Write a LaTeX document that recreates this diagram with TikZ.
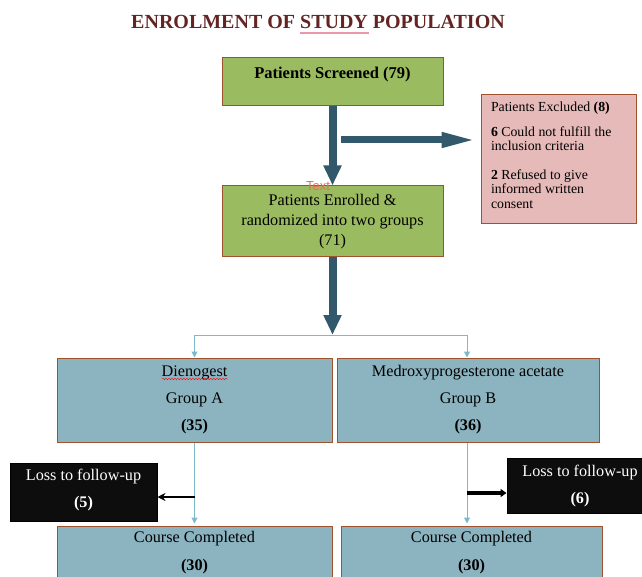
\documentclass[tikz,border=0pt]{standalone}
\usepackage{fontspec}
\setmainfont{Liberation Serif}
\newfontfamily\marksans{Liberation Sans}
\usetikzlibrary{arrows.meta,decorations.pathmorphing}
\definecolor{titlered}{RGB}{99,37,35}
\definecolor{boxedge}{RGB}{160,82,45}
\definecolor{screengreen}{RGB}{155,187,96}
\definecolor{exclpink}{RGB}{230,186,185}
\definecolor{groupblue}{RGB}{139,179,192}
\definecolor{flowteal}{RGB}{49,89,107}
\definecolor{thinblue}{RGB}{125,185,205}
\definecolor{markpink}{RGB}{235,150,170}
\definecolor{marksalmon}{RGB}{238,105,85}
\begin{document}
\begin{tikzpicture}[x=1pt, y=-1pt,
    box/.style={draw=boxedge, line width=1pt, inner sep=0pt, align=center, font=\fontsize{16.2}{27}\selectfont},
    greenbox/.style={box, fill=screengreen},
    bluebox/.style={box, fill=groupblue},
    lossbox/.style={box, draw=black, fill=black!95, text=white},
    bigarrow/.style={flowteal, line width=8pt, -{Triangle[width=17pt,length=20pt]}},
    thinarrow/.style={thinblue, line width=1pt, -{Triangle[width=6pt,length=6pt]}}]
  \useasboundingbox (0,0) rectangle (642,577);
  \node[font=\fontsize{20}{20}\selectfont\bfseries, text=titlered] (title) at (318,22) {ENROLMENT OF STUDY POPULATION};
  \draw[markpink, line width=2pt] (300,33.5) -- (369,33.5);
  % boxes
  \node[greenbox, minimum width=221, minimum height=48, text height=21, text depth=27, font=\fontsize{16.5}{20}\selectfont\bfseries] (screened) at (332.5,82) {Patients Screened (79)};
  \node[greenbox, minimum width=221, minimum height=71, text height=60, text depth=11, font=\fontsize{16.2}{20}\selectfont] (enrolled) at (332.5,221.5) {Patients Enrolled \&\\randomized into two groups\\(71)};
  \node[box, fill=exclpink, minimum width=155, minimum height=129, text height=17, text depth=112, inner xsep=10pt, text width=135, align=flush left, font=\fontsize{13.8}{14.5}\selectfont] (excl) at (558.5,159.5) {Patients Excluded \textbf{(8)}\\[10pt]\textbf{6} Could not fulfill the\\inclusion criteria\\[14pt]\textbf{2} Refused to give\\informed written\\consent};
  \node[bluebox, minimum width=275, minimum height=84, text height=72, text depth=12] (grpA) at (194.5,400) {Dienogest\\Group A\\\textbf{(35)}};
  \node[bluebox, minimum width=262, minimum height=84, text height=72, text depth=12] (grpB) at (468,400) {Medroxyprogesterone acetate\\Group B\\\textbf{(36)}};
  \node[bluebox, minimum width=275, minimum height=74, text height=44, text depth=30, font=\fontsize{16.2}{28}\selectfont] (courseA) at (194.5,563) {Course Completed\\\textbf{(30)}};
  \node[bluebox, minimum width=261, minimum height=74, text height=44, text depth=30, font=\fontsize{16.2}{28}\selectfont] (courseB) at (471.5,563) {Course Completed\\\textbf{(30)}};
  \node[lossbox, minimum width=147, minimum height=58, text height=44, text depth=14] (lossA) at (83.5,492) {Loss to follow-up\\\textbf{(5)}};
  \node[lossbox, minimum width=146, minimum height=55, text height=45, text depth=10] (lossB) at (580,485.5) {Loss to follow-up\\\textbf{(6)}};
  \node[font=\marksans\fontsize{13}{13}\selectfont, text=marksalmon, inner sep=0pt] (txtmark) at (318,186.5) {Text};
  \draw[red, decorate, decoration={snake, amplitude=0.8pt, segment length=3pt}] (162,379) -- (228,379);
  % arrows
  \draw[bigarrow] (screened.south) -- (enrolled.north);
  \coordinate (excljoin) at (341,140);
  \draw[flowteal, line width=7pt, -{Triangle[width=14pt,length=35pt]}, shorten >=4pt] (excljoin) -- (excljoin -| excl.west);
  \coordinate (split) at (332.5,335);
  \draw[bigarrow] (enrolled.south) -- (split);
  \coordinate (splitA) at (194.5,335);
  \coordinate (splitB) at (467,335);
  \draw[thinblue, line width=1pt] (splitA) -- (splitB);
  \draw[thinarrow] (splitA) -- (grpA.north);
  \draw[thinarrow] (splitB) -- (splitB |- grpB.north);
  \draw[thinarrow, shorten >=2pt] (grpA.south) -- (courseA.north);
  \draw[thinarrow, shorten >=2pt] (splitB |- grpB.south) -- (splitB |- courseB.north);
  \coordinate (lossAjoin) at (194.5,497);
  \draw[line width=2pt, -{Stealth[length=8pt,width=8pt]}] (lossAjoin) -- (lossAjoin -| lossA.east);
  \coordinate (lossBjoin) at (467,493);
  \draw[line width=3.5pt, -{Triangle[length=6pt,width=8pt]}] (lossBjoin) -- (lossBjoin -| lossB.west);
\end{tikzpicture}
\end{document}
